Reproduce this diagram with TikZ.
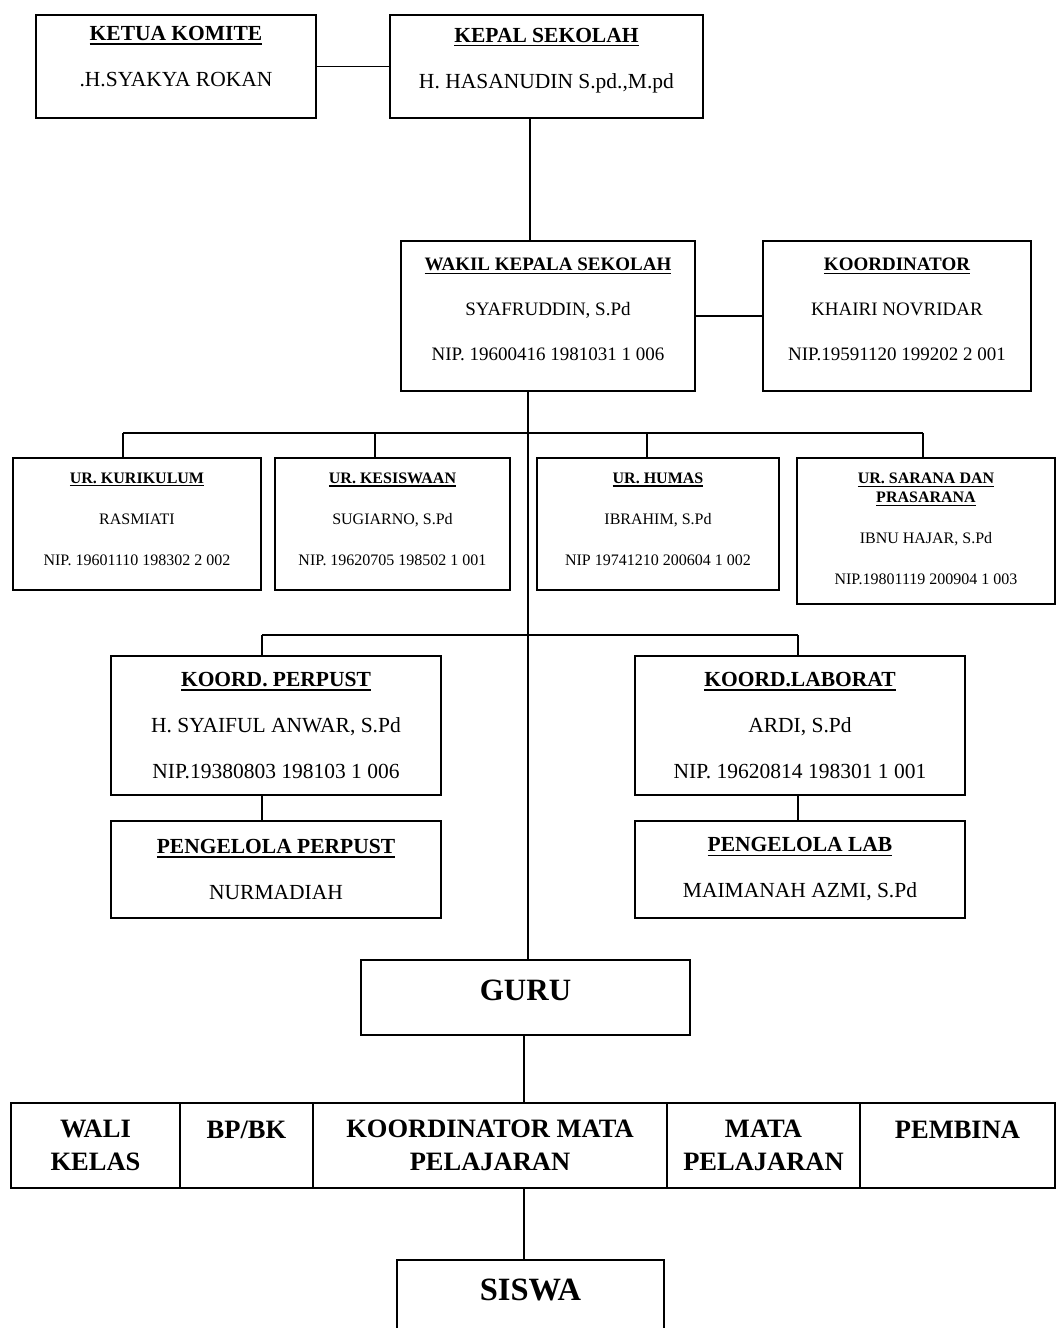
\documentclass[tikz,border=0pt]{standalone}
\usepackage{fontspec}
\setmainfont{Liberation Serif}
\usepackage{tikz}
\usetikzlibrary{positioning}

\newcommand{\hdr}[1]{{\bfseries\setbox0=\hbox{#1}\rlap{\rule[-0.2em]{\wd0}{0.08em}}\box0}}

\tikzset{
  box/.style={draw, line width=1.9pt, align=center, inner sep=2pt},
  topbox/.style={box, font=\fontsize{21.5}{46}\selectfont},
  midbox/.style={box, font=\fontsize{19}{45}\selectfont},
  urbox/.style={box, font=\fontsize{16}{19}\selectfont},
  cellbox/.style={box, outer sep=0pt, minimum height=85pt, font=\bfseries\fontsize{26.5}{33}\selectfont},
  mainbox/.style={box, font=\bfseries\fontsize{31}{37}\selectfont},
}

\begin{document}
\begin{tikzpicture}[x=1pt, y=-1pt, line width=1.8pt, node distance=0pt]
    \useasboundingbox (0,0) rectangle (1057,1328);
    \clip (0,0) rectangle (1057,1328);

    % top row
    \node[topbox, minimum width=280pt, minimum height=103pt, text depth=20pt] (ketua) at (176,66.5) {\hdr{KETUA KOMITE}\\.H.SYAKYA ROKAN};
    \node[topbox, minimum width=313pt, minimum height=103pt, text depth=17pt] (kepala) at (546.5,66.5) {\hdr{KEPAL SEKOLAH}\\H. HASANUDIN S.pd.,M.pd};

    \node[midbox, minimum width=294pt, minimum height=150pt, text depth=14pt] (wakil) at (548,316) {\hdr{WAKIL KEPALA SEKOLAH}\\SYAFRUDDIN, S.Pd\\NIP. 19600416 1981031 1 006};
    \node[midbox, minimum width=268pt, minimum height=150pt, text depth=14pt] (koord) at (897,316) {\hdr{KOORDINATOR}\\KHAIRI NOVRIDAR\\NIP.19591120 199202 2 001};

    % urusan
    \node[urbox, minimum width=248pt, minimum height=132pt, text depth=10pt] (kuri) at (137,524) {\hdr{UR. KURIKULUM}\\[22pt]RASMIATI\\[22pt]NIP. 19601110 198302 2 002};
    \node[urbox, minimum width=235pt, minimum height=132pt, text depth=10pt] (kesis) at (392.5,524) {\hdr{UR. KESISWAAN}\\[22pt]SUGIARNO, S.Pd\\[22pt]NIP. 19620705 198502 1 001};
    \node[urbox, minimum width=242pt, minimum height=132pt, text depth=10pt] (humas) at (658,524) {\hdr{UR. HUMAS}\\[22pt]IBRAHIM, S.Pd\\[22pt]NIP 19741210 200604 1 002};
    \node[urbox, minimum width=258pt, minimum height=146pt, text depth=4pt] (sarana) at (926,531) {\hdr{UR. SARANA DAN}\\\hdr{PRASARANA}\\[22pt]IBNU HAJAR, S.Pd\\[22pt]NIP.19801119 200904 1 003};

    % perpustakaan / lab
    \node[topbox, minimum width=330pt, minimum height=139pt] (perpust) at (276,725.5) {\hdr{KOORD. PERPUST}\\H. SYAIFUL ANWAR, S.Pd\\NIP.19380803 198103 1 006};
    \node[topbox, minimum width=330pt, minimum height=139pt] (lab) at (800,725.5) {\hdr{KOORD.LABORAT}\\ARDI, S.Pd\\NIP. 19620814 198301 1 001};
    \node[topbox, minimum width=330pt, minimum height=97pt] (pperpust) at (276,869.5) {\hdr{PENGELOLA PERPUST}\\NURMADIAH};
    \node[topbox, minimum width=330pt, minimum height=97pt] (plab) at (800,869.5) {\hdr{PENGELOLA LAB}\\MAIMANAH AZMI, S.Pd};

    \node[mainbox, minimum width=329pt, minimum height=75pt, text depth=15pt] (guru) at (525.5,997.5) {GURU};

    % bottom row
    \node[cellbox, minimum width=169pt, anchor=north west] (wali) at (11,1103) {WALI\\KELAS};
    \node[cellbox, minimum width=133pt, text depth=31pt, right=of wali] (bpbk) {BP/BK};
    \node[cellbox, minimum width=354pt, right=of bpbk] (kmp) {KOORDINATOR MATA\\PELAJARAN};
    \node[cellbox, minimum width=193pt, right=of kmp] (mapel) {MATA\\PELAJARAN};
    \node[cellbox, minimum width=195pt, text depth=31pt, right=of mapel] (pembina) {PEMBINA};

    \node[mainbox, font=\bfseries\fontsize{32.5}{37}\selectfont, minimum width=267pt, minimum height=80pt, text depth=20pt] (siswa) at (530.5,1300) {SISWA};

    % connectors
    \coordinate (t1) at (530,0);
    \coordinate (t2) at (528,0);
    \coordinate (t3) at (524,0);
    \coordinate (b1a) at (123,433);
    \coordinate (b1b) at (375,433);
    \coordinate (b1c) at (647,433);
    \coordinate (b1d) at (923,433);
    \coordinate (b2a) at (262,635);
    \coordinate (b2b) at (798,635);

    \draw (ketua) -- (kepala);
    \draw (wakil) -- (koord);
    \draw (kepala.south -| t1) -- (wakil.north -| t1);
    \draw (wakil.south -| t2) -- (guru.north -| t2);
    \draw (b1a) -- (b1d);
    \foreach \c/\n in {b1a/kuri, b1b/kesis, b1c/humas, b1d/sarana}
        \draw (\c) -- (\c |- \n.north);
    \draw (b2a) -- (b2b);
    \draw (b2a) -- (b2a |- perpust.north);
    \draw (b2b) -- (b2b |- lab.north);
    \draw (perpust.south -| b2a) -- (pperpust.north -| b2a);
    \draw (lab.south -| b2b) -- (plab.north -| b2b);
    \draw (guru.south -| t3) -- (kmp.north -| t3);
    \draw (kmp.south -| t3) -- (siswa.north -| t3);
\end{tikzpicture}
\end{document}
